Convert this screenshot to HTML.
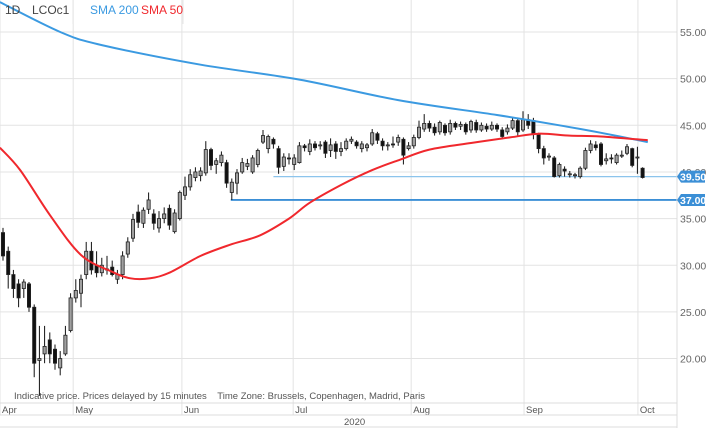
<!DOCTYPE html>
<html><head><meta charset="utf-8"><style>
body{margin:0;background:#fff;font-family:"Liberation Sans",Arial,sans-serif}
svg{display:block}
</style></head><body>
<svg id="chart" width="708" height="428" viewBox="0 0 708 428" xmlns="http://www.w3.org/2000/svg">
<rect x="0" y="0" width="708" height="428" fill="#fff"/>
<g id="grid"></g>
<g id="overlays"></g>
<g id="candles"></g>
<g id="lines"></g>
<g id="axes"></g>
<g>
 <line x1="73" y1="0" x2="73" y2="24" stroke="#e6e6e6"/>
 <line x1="183" y1="0" x2="183" y2="24" stroke="#e6e6e6"/>
 <text x="5" y="14" font-size="12" fill="#444">1D</text>
 <text x="32" y="14" font-size="12" fill="#444">LCOc1</text>
 <text x="90" y="14" font-size="12" fill="#3b9ae1">SMA 200</text>
 <text x="141" y="14" font-size="12" fill="#f0282d">SMA 50</text>
</g>
<text x="14" y="399" font-size="9.5" fill="#555">Indicative price. Prices delayed by 15 minutes&#160;&#160;&#160;&#160;Time Zone: Brussels, Copenhagen, Madrid, Paris</text>
</svg>
<script>
const opens=[33.5,31.5,29,28,27.5,28,25.5,19.8,20.5,22,21,19,20.5,23,26.5,27,29,31.5,30,29.2,29.5,29.8,28.5,29,31.2,32.9,35.7,34.5,36,35.5,34,35,36.1,33.6,35,37.5,38.4,39.4,39.6,39.9,42.4,40.8,41,41,37.8,38.8,40,40.6,40,40.8,43.2,42.5,43.5,42.5,40.6,41.5,40.8,41,42.8,42.2,43,42.8,43.2,42.3,43,42.2,42.5,43.3,43.2,42.5,42.6,43,44.1,43.3,42.8,43,43.2,43.5,42.5,42.8,43.7,44.6,45.2,44.8,44.3,45,44.3,45.2,44.9,45.1,44.5,45.3,44.5,44.9,44.6,45,44.5,44.3,44.7,45.5,44.5,45.6,45.5,44,42.5,41.7,41.5,39.6,40.3,39.8,39.6,39.5,40.4,42.3,42.9,43,41.2,41.5,41,41.7,42,42.5,41.6,40.4];
const highs=[34,32,29.5,28.5,28.5,28.2,25.8,23.5,23.5,22.8,21.5,20.8,23.5,27,28.5,29,32.5,32.5,31.5,30.8,31,30.5,29.5,31.5,33,35.5,36.5,36.2,37.8,36,35.8,36.2,36.5,36,38,39.5,40.3,40.5,40.5,43.3,42.6,41.5,42.2,41.3,39.3,40.3,41.5,41.4,41.8,42.5,44.5,44,43.7,42.8,42,42,41.9,43.2,43,43.5,43.3,43.3,43.4,43.6,43.3,43.2,43.6,43.8,43.4,43.3,43.1,44.6,44.3,43.6,43.2,43.8,44,43.7,43.2,44,45.5,46.2,45.5,45.2,45.5,45.2,45.6,45.4,45.4,45.3,45.6,45.6,45.3,45.2,45.4,45.2,44.8,45.1,45.9,45.7,46.5,46.2,45.8,44.2,42.8,42,41.7,41,40.6,40.1,39.9,40.6,42.6,43.4,43.3,43.2,42,41.9,42,42.3,43,42.6,42.7,40.5];
const lows=[30.5,27.5,26.5,25.5,26.5,25,18,16,19.5,19.5,18.8,18.2,20.3,22.8,26,25.5,28.5,29,28.7,28.8,29,28.8,28,28.5,30.8,32.5,34,34,35.5,33.8,33.5,34.5,33.8,33.4,34.8,37,38,39,39,39.6,40.2,39.8,40.6,38.3,37,37.6,39.8,40.2,39.8,40.5,43,42,42.5,39.8,40.1,40.8,40.2,40.9,42.2,41.8,42.3,42.4,41.5,41.6,41.4,41.7,42.3,43,42.5,42.1,42.2,42.8,43,42.3,42.3,42.6,42.8,40.8,42.3,42.5,43.5,44.3,44.3,43.9,44,43.9,44,44.5,44.5,44,44.2,44.2,44.3,44.3,44.4,44.3,43.5,44,44.5,43.8,44.3,44.6,43.5,42,40.8,41.2,39.4,39.4,39.5,39.4,39.3,39.3,40.2,42,42.3,40.6,40.8,40.9,40.8,41.5,41.8,40.5,39.8,39.3];
const closes=[31,29,27.5,26.5,28.2,25.5,19.5,20,21.3,20.5,19.5,20,22.5,26.5,27.3,28.5,31.5,29.5,29.2,30,29.6,29,29,31,32.5,34.9,34.6,35.9,37,34.5,35,35.5,34.3,35.6,37.8,38.4,39.7,40,40.1,42.4,40.7,41.2,41.8,38.8,38.9,39.9,41,40.9,41.5,42.3,43.9,43.8,43,40.5,41.6,41.4,41.5,42.8,42.6,43,42.6,42.9,42,42.9,42.2,42.5,43.3,43.5,42.8,43,42.9,44.2,43.4,42.8,42.9,42.9,43.7,41.8,42.8,43.7,44.8,45.2,44.7,44.2,45.3,44.2,45.2,44.8,45.1,44.3,45.4,44.5,45,44.6,45,44.6,43.8,44.7,45.5,44.3,45.6,45,44,42.5,41.5,41.7,39.5,40.8,40.1,39.8,39.7,40.4,42.3,43,42.6,40.8,41.4,41.4,41.8,41.8,42.7,40.7,41.6,39.4];
const sma200Idx=[-0.6,11,19,38,57,76,95,107,115,124];
const sma200Val=[58.2,55,53.6,51.5,49.9,47.7,46.1,45,44.2,43.2];
const sma50Idx=[-0.6,3.3,9,15,21,24.5,28.3,32,38,43.7,49.4,55,59,65,71,76.3,82,90,97.5,103,109,115,124];
const sma50Val=[42.6,40.2,35.4,31.1,29.3,28.6,28.6,29.2,31,32.2,33.2,35,36.7,38.6,40.2,41.3,42.4,43.1,43.7,44.1,43.9,43.8,43.4];
const priceTicks=[20,25,30,35,40,45,50,55];
const tickLabels=["20.00","25.00","30.00","35.00","40.00","45.00","50.00","55.00"];
const monthIdx=[-0.6,13.5,34.4,55.8,78.5,100.2,122.1];
const monthLabels=["Apr","May","Jun","Jul","Aug","Sep","Oct"];
const levelVals=[39.5,37];
const levelStart=[52,43.8];
const levelLabels=["39.50","37.00"];

const NS="http://www.w3.org/2000/svg";
const PR=677;
const y=p=>32+(55-p)*9.33;
const x=i=>3+5.2*i;
function mk(parent,tag,attrs){const e=document.createElementNS(NS,tag);for(const k in attrs)e.setAttribute(k,attrs[k]);document.getElementById(parent).appendChild(e);return e;}

priceTicks.forEach((p,k)=>{
 const l=mk('grid','line',{x1:0,x2:PR,y1:y(p),y2:y(p),stroke:'#e3e3e3'});
 
 
 const t=mk('axes','text',{x:680,y:y(p)+4,'font-size':10.5,fill:'#666'});
 t.textContent=tickLabels[k];
 
 
});
monthIdx.forEach((m,k)=>{
 const gx=Math.max(0,x(m));
 const l=mk('grid','line',{x1:gx,x2:gx,y1:0,y2:415,stroke:'#e3e3e3'});
 
 
 const t=mk('axes','text',{x:gx+2,y:413,'font-size':9.5,fill:'#555'});
 t.textContent=monthLabels[k];
 
 
});
[403,415,427].forEach(yy=>{
 const l=mk('axes','line',{x1:0,x2:PR,y1:yy,y2:yy,stroke:'#dcdcdc'});
 
 
});
const ra=mk('axes','line',{x1:PR,x2:PR,y1:0,y2:428,stroke:'#dcdcdc'});


const yr=mk('axes','text',{x:344,y:425,'font-size':9.5,fill:'#555'});
yr.textContent='2020';



levelVals.forEach((v,k)=>{
 const l=mk('overlays','line',{x1:x(levelStart[k]),x2:PR,y1:y(v),y2:y(v),stroke:k==0?'#8cc4ec':'#3b8fd6','stroke-width':k==0?1.3:1.8});
 
 
 const b=mk('axes','path',{d:`M${PR} ${y(v)} L${PR+4} ${y(v)-6} L705 ${y(v)-6} L705 ${y(v)+6} L${PR+4} ${y(v)+6} Z`,fill:'#3b8fd6'});
 
 
 const t=mk('axes','text',{x:680,y:y(v)+4,'font-size':10.5,fill:'#fff','font-weight':'bold'});
 t.textContent=levelLabels[k];
 
 
});

closes.forEach((c,i)=>{
 const o=opens[i],cx=x(i);
 const w=mk('candles','line',{x1:cx,x2:cx,y1:y(highs[i]),y2:y(lows[i]),stroke:'#111','stroke-width':1});
 
 
 const up=c>=o;
 const top=y(Math.max(o,c)),bot=y(Math.min(o,c));
 const r=mk('candles','rect',{x:cx-1.6,y:top,width:3.2,height:Math.max(1,bot-top),fill:up?'#a0a0a0':'#111',stroke:'#222','stroke-width':0.8});
 
 
});

function poly(idx,val,color,name){
 const pts=idx.map((i,k)=>[x(i),y(val[k])]);
 let d='M'+pts[0][0].toFixed(1)+' '+pts[0][1].toFixed(1);
 for(let k=0;k<pts.length-1;k++){
  const p0=pts[Math.max(0,k-1)],p1=pts[k],p2=pts[k+1],p3=pts[Math.min(pts.length-1,k+2)];
  const c1=[p1[0]+(p2[0]-p0[0])/6,p1[1]+(p2[1]-p0[1])/6];
  const c2=[p2[0]-(p3[0]-p1[0])/6,p2[1]-(p3[1]-p1[1])/6];
  d+=` C${c1[0].toFixed(1)} ${c1[1].toFixed(1)} ${c2[0].toFixed(1)} ${c2[1].toFixed(1)} ${p2[0].toFixed(1)} ${p2[1].toFixed(1)}`;
 }
 const p=mk('lines','path',{d:d,fill:'none',stroke:color,'stroke-width':2,'stroke-linejoin':'round'});
 
 
}
poly(sma200Idx,sma200Val,'#3b9ae1','sma200-line');
poly(sma50Idx,sma50Val,'#f0282d','sma50-line');
</script>
</body></html>
